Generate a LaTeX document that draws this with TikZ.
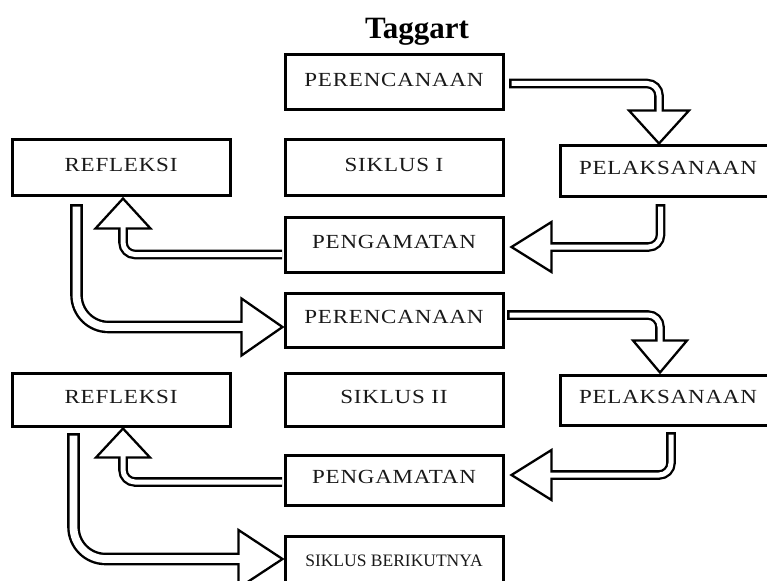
\documentclass[tikz,border=0pt]{standalone}
\usepackage{fontspec}
\setmainfont{Liberation Serif}
\newfontfamily\boxfont[FakeStretch=1.15, LetterSpace=4]{Liberation Serif}
\usetikzlibrary{calc}
\tikzset{
  box/.style={draw, line width=3pt, minimum width=218pt, minimum height=55pt,
    inner sep=0pt, text depth=6pt, text=black!90,
    font=\boxfont\fontsize{20}{22}\selectfont},
  titlestyle/.style={anchor=base, inner sep=0pt, font=\fontsize{31}{34}\selectfont\bfseries},
  head/.style={draw, fill=white, line width=2.3pt, line join=miter},
  shaftout/.style={line width=9.6pt, line cap=rect},
  shaftin/.style={white, line width=5pt, line cap=rect},
  bigout/.style={line width=12.6pt, line cap=rect},
  bigin/.style={white, line width=7.8pt, line cap=rect},
}
\begin{document}
\begin{tikzpicture}[x=1pt,y=-1pt]
\path[use as bounding box] (0,0) rectangle (767,580);
\clip (0,0) rectangle (767,580);

\node[titlestyle] (title) at (417,39) {Taggart};

\node[box] (per1) at (394,82.5) {PERENCANAAN};
\node[box] (ref1) at (121,167.5) {REFLEKSI};
\node[box] (sik1) at (394,167.5) {SIKLUS I};
\node[box, minimum width=216pt, minimum height=50pt] (pel1) at (668,171) {PELAKSANAAN};
\node[box] (pen1) at (394,244.5) {PENGAMATAN};
\node[box, minimum height=54pt] (per2) at (394,320) {PERENCANAAN};
\node[box, minimum height=53pt] (ref2) at (121,399.5) {REFLEKSI};
\node[box, minimum height=53pt] (sik2) at (394,399.5) {SIKLUS II};
\node[box, minimum width=216pt, minimum height=50pt] (pel2) at (668,400) {PELAKSANAAN};
\node[box, minimum height=50pt] (pen2) at (394,480) {PENGAMATAN};
\node[box, minimum height=64pt, text depth=15pt, font=\fontsize{17.5}{19}\selectfont] (next) at (394,568) {SIKLUS BERIKUTNYA};

% A1: perencanaan 1 -> pelaksanaan 1
\coordinate (a1s) at ($(per1.east)+(9.5,1)$);
\coordinate (a1t) at ($(pel1.north)+(-9,-1)$);
\draw[shaftout, rounded corners=12pt] (a1s) -| ($(a1t)+(0,-30)$);
\draw[head] ($(a1t)+(-30,-33)$) -- ($(a1t)+(30,-33)$) -- (a1t) -- cycle;
\draw[shaftin, rounded corners=12pt] (a1s) -| ($(a1t)+(0,-30)$);

% A2: pelaksanaan 1 -> pengamatan 1
\coordinate (a2s) at ($(pel1.south)+(-7.5,11.5)$);
\coordinate (a2t) at ($(pen1.east)+(7,2.5)$);
\draw[shaftout, rounded corners=12pt] (a2s) |- ($(a2t)+(37,0)$);
\draw[head] ($(a2t)+(40,-25)$) -- ($(a2t)+(40,25)$) -- (a2t) -- cycle;
\draw[shaftin, rounded corners=12pt] (a2s) |- ($(a2t)+(37,0)$);

% A3: pengamatan 1 -> refleksi 1
\coordinate (a3s) at ($(pen1.west)+(-1.5,10)$);
\coordinate (a3t) at ($(ref1.south)+(2,2)$);
\draw[shaftout, line cap=butt, rounded corners=12pt] (a3s) -| ($(a3t)+(0,27)$);
\draw[head] ($(a3t)+(-27.5,30)$) -- ($(a3t)+(27.5,30)$) -- (a3t) -- cycle;
\draw[shaftin, line cap=butt, rounded corners=12pt] (a3s) -| ($(a3t)+(0,27)$);

% A4: refleksi 1 -> perencanaan 2
\coordinate (a4s) at ($(ref1.south)+(-44.5,14)$);
\coordinate (a4t) at ($(per2.west)+(-1,7)$);
\draw[bigout, rounded corners=32pt] (a4s) |- ($(a4t)+(-38,0)$);
\draw[head] ($(a4t)+(-41,-28.5)$) -- ($(a4t)+(-41,28.5)$) -- (a4t) -- cycle;
\draw[bigin, rounded corners=32pt] (a4s) |- ($(a4t)+(-38,0)$);

% A5: perencanaan 2 -> pelaksanaan 2
\coordinate (a5s) at ($(per2.east)+(7.5,-5)$);
\coordinate (a5t) at ($(pel2.north)+(-8,-1)$);
\draw[shaftout, rounded corners=12pt] (a5s) -| ($(a5t)+(0,-29)$);
\draw[head] ($(a5t)+(-27,-32)$) -- ($(a5t)+(27,-32)$) -- (a5t) -- cycle;
\draw[shaftin, rounded corners=12pt] (a5s) -| ($(a5t)+(0,-29)$);

% A6: pelaksanaan 2 -> pengamatan 2
\coordinate (a6s) at ($(pel2.south)+(3,10.5)$);
\coordinate (a6t) at ($(pen2.east)+(7,-5)$);
\draw[shaftout, rounded corners=12pt] (a6s) |- ($(a6t)+(37,0)$);
\draw[head] ($(a6t)+(40,-25)$) -- ($(a6t)+(40,25)$) -- (a6t) -- cycle;
\draw[shaftin, rounded corners=12pt] (a6s) |- ($(a6t)+(37,0)$);

% A7: pengamatan 2 -> refleksi 2
\coordinate (a7s) at ($(pen2.west)+(-1.5,2)$);
\coordinate (a7t) at ($(ref2.south)+(2,1)$);
\draw[shaftout, line cap=butt, rounded corners=12pt] (a7s) -| ($(a7t)+(0,26)$);
\draw[head] ($(a7t)+(-27,29)$) -- ($(a7t)+(27,29)$) -- (a7t) -- cycle;
\draw[shaftin, line cap=butt, rounded corners=12pt] (a7s) -| ($(a7t)+(0,26)$);

% A8: refleksi 2 -> siklus berikutnya
\coordinate (a8s) at ($(ref2.south)+(-47.5,12)$);
\coordinate (a8t) at ($(next.west)+(-1,-9)$);
\draw[bigout, rounded corners=32pt] (a8s) |- ($(a8t)+(-41,0)$);
\draw[head] ($(a8t)+(-44,-29)$) -- ($(a8t)+(-44,29)$) -- (a8t) -- cycle;
\draw[bigin, rounded corners=32pt] (a8s) |- ($(a8t)+(-41,0)$);
\end{tikzpicture}
\end{document}
